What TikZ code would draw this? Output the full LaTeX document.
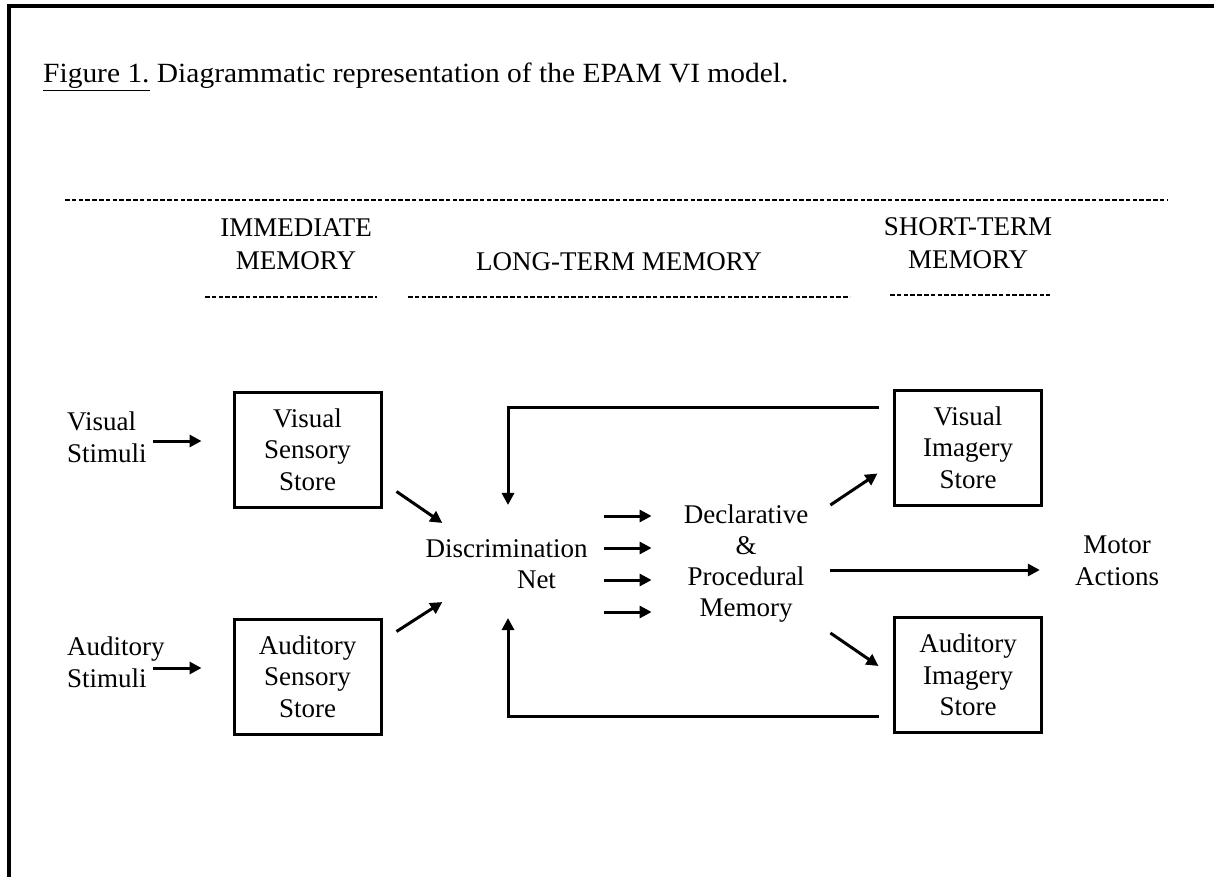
\documentclass[tikz,border=0pt]{standalone}
\usepackage{fontspec}
\setmainfont{Liberation Serif}
\newfontfamily\titlefont[FakeStretch=1.06]{Liberation Serif}
\usetikzlibrary{arrows.meta}
\begin{document}
\begin{tikzpicture}[x=1pt,y=-1pt,
  every node/.style={inner sep=0pt, font=\fontsize{27}{32}\selectfont},
  txt/.style={align=center},
  heading/.style={align=center, font=\fontsize{27}{33}\selectfont},
  store/.style={draw, line width=3pt, minimum width=147pt, minimum height=115pt,
                align=center, font=\fontsize{27}{31.5}\selectfont},
  arr/.style={line width=3pt, -{Triangle[length=12pt,width=12pt]}},
  frame/.style={line width=3.5pt},
  dashrule/.style={line width=2pt, dash pattern=on 4.5pt off 2.3pt}]
\useasboundingbox (0,0) rectangle (1214,877);

% page frame (left and top edges)
\draw[frame] (9,880) -- (9,6) -- (1216,6);

% caption
\node[anchor=base west, font=\titlefont\fontsize{27.8}{32}\selectfont] (title) at (43,83)
  {\underline{Figure 1.} Diagrammatic representation of the EPAM VI model.};

% column headings
\draw[dashrule] (65,200) -- (1168,200);
\node[heading] (imm) at (296,244.5) {IMMEDIATE\\MEMORY};
\node[anchor=base] (ltm) at (619,270) {LONG-TERM MEMORY};
\node[heading] (stm) at (968,243.4) {SHORT-TERM\\MEMORY};
\draw[dashrule] (205,297) -- (377,297);
\draw[dashrule] (408,297) -- (850,297);
\draw[dashrule] (890,295) -- (1050,295);

% inputs
\node[align=left, anchor=west] (vstim) at (67,436.8) {Visual\\Stimuli};
\node[align=left, anchor=west] (astim) at (67,661.8) {Auditory\\Stimuli};

% stores
\node[store] (vss) at (307.5,449.5) {Visual\\Sensory\\Store};
\node[store] (ass) at (307.5,676.5) {Auditory\\Sensory\\Store};
\node[store] (vis) at (968,447.5) {Visual\\Imagery\\Store};
\node[store] (ais) at (968,675) {Auditory\\Imagery\\Store};

% long-term memory components
\node[txt, font=\fontsize{27}{31.5}\selectfont] (disc) at (506.5,564)
  {Discrimination\\\hspace*{60pt}Net};
\node[txt, font=\fontsize{27}{31}\selectfont] (decl) at (746,564)
  {Declarative\\\&\\Procedural\\Memory};

% output
\node[txt] (motor) at (1117,561) {Motor\\Actions};

% stimuli into sensory stores
\draw[arr] ([shift={(6.5,4.2)}]vstim.east) -- ([shift={(-31,-8.5)}]vss.west);
\draw[arr] ([shift={(-11.5,6.2)}]astim.east) -- ([shift={(-31,-8.5)}]ass.west);

% sensory stores into discrimination net
\draw[arr] ([shift={(14,-17)}]vss.south east) -- ([shift={(17,-16)}]disc.north west);
\draw[arr] ([shift={(14,14)}]ass.north east) -- ([shift={(17,13)}]disc.south west);

% discrimination net into declarative & procedural memory
\foreach \dy in {-48,-16,16,48}
  \draw[arr] ([shift={(16,\dy)}]disc.east) -- ([shift={(-32,\dy)}]decl.west);

% memory to imagery stores and motor actions
\draw[arr] ([shift={(22,0)}]decl.north east) -- ([shift={(-15.5,-33)}]vis.south west);
\draw[arr] ([shift={(22,10)}]decl.south east) -- ([shift={(-14.5,-9)}]ais.west);
\draw[arr] ([shift={(22,6)}]decl.east) -- ([shift={(-35,9)}]motor.west);

% feedback from imagery stores to discrimination net
\draw[arr] ([shift={(-14.5,-40.5)}]vis.west) -| ([shift={(1.5,-34)}]disc.north);
\draw[arr] ([shift={(-14.5,41)}]ais.west) -| ([shift={(1.5,29)}]disc.south);
\end{tikzpicture}
\end{document}
